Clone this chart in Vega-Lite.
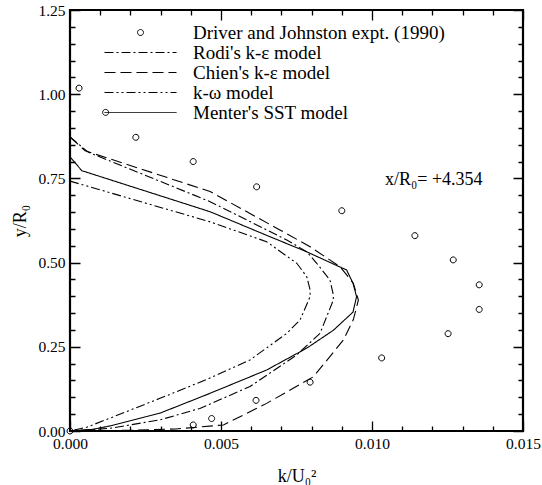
{
  "$schema": "https://vega.github.io/schema/vega-lite/v6.json",
  "width": 453,
  "height": 421,
  "autosize": {"type": "none"},
  "padding": {"left": 70, "top": 10, "right": 19, "bottom": 54},
  "background": "white",
  "datasets": {
    "expt": [
      {"x": 0.0, "y": 0.0, "series": "Driver and Johnston expt. (1990)"},
      {"x": 0.0003, "y": 1.018, "series": "Driver and Johnston expt. (1990)"},
      {"x": 0.00118, "y": 0.946, "series": "Driver and Johnston expt. (1990)"},
      {"x": 0.00218, "y": 0.872, "series": "Driver and Johnston expt. (1990)"},
      {"x": 0.00408, "y": 0.8, "series": "Driver and Johnston expt. (1990)"},
      {"x": 0.00618, "y": 0.725, "series": "Driver and Johnston expt. (1990)"},
      {"x": 0.009, "y": 0.654, "series": "Driver and Johnston expt. (1990)"},
      {"x": 0.01142, "y": 0.58, "series": "Driver and Johnston expt. (1990)"},
      {"x": 0.01269, "y": 0.508, "series": "Driver and Johnston expt. (1990)"},
      {"x": 0.01355, "y": 0.434, "series": "Driver and Johnston expt. (1990)"},
      {"x": 0.01355, "y": 0.361, "series": "Driver and Johnston expt. (1990)"},
      {"x": 0.01252, "y": 0.289, "series": "Driver and Johnston expt. (1990)"},
      {"x": 0.01032, "y": 0.217, "series": "Driver and Johnston expt. (1990)"},
      {"x": 0.00795, "y": 0.145, "series": "Driver and Johnston expt. (1990)"},
      {"x": 0.00616, "y": 0.091, "series": "Driver and Johnston expt. (1990)"},
      {"x": 0.00469, "y": 0.037, "series": "Driver and Johnston expt. (1990)"},
      {"x": 0.00408, "y": 0.018, "series": "Driver and Johnston expt. (1990)"}
    ],
    "models": [
      {"series": "Rodi's k-ε model", "i": 1, "x": 0.0, "y": 0.873},
      {"series": "Rodi's k-ε model", "i": 2, "x": 0.0006, "y": 0.828},
      {"series": "Rodi's k-ε model", "i": 3, "x": 0.00464, "y": 0.681},
      {"series": "Rodi's k-ε model", "i": 4, "x": 0.00718, "y": 0.567},
      {"series": "Rodi's k-ε model", "i": 5, "x": 0.00784, "y": 0.532},
      {"series": "Rodi's k-ε model", "i": 6, "x": 0.00817, "y": 0.498},
      {"series": "Rodi's k-ε model", "i": 7, "x": 0.00861, "y": 0.448},
      {"series": "Rodi's k-ε model", "i": 8, "x": 0.00872, "y": 0.404},
      {"series": "Rodi's k-ε model", "i": 9, "x": 0.00872, "y": 0.389},
      {"series": "Rodi's k-ε model", "i": 10, "x": 0.00828, "y": 0.29},
      {"series": "Rodi's k-ε model", "i": 11, "x": 0.00751, "y": 0.226},
      {"series": "Rodi's k-ε model", "i": 12, "x": 0.00596, "y": 0.132},
      {"series": "Rodi's k-ε model", "i": 13, "x": 0.0043, "y": 0.067},
      {"series": "Rodi's k-ε model", "i": 14, "x": 0.00298, "y": 0.033},
      {"series": "Rodi's k-ε model", "i": 15, "x": 0.00132, "y": 0.008},
      {"series": "Rodi's k-ε model", "i": 16, "x": 0.0, "y": 0.0},
      {"series": "Chien's k-ε model", "i": 1, "x": 0.0, "y": 0.873},
      {"series": "Chien's k-ε model", "i": 2, "x": 0.0005, "y": 0.832},
      {"series": "Chien's k-ε model", "i": 3, "x": 0.00464, "y": 0.711},
      {"series": "Chien's k-ε model", "i": 4, "x": 0.00695, "y": 0.597},
      {"series": "Chien's k-ε model", "i": 5, "x": 0.00795, "y": 0.547},
      {"series": "Chien's k-ε model", "i": 6, "x": 0.00894, "y": 0.488},
      {"series": "Chien's k-ε model", "i": 7, "x": 0.00938, "y": 0.439},
      {"series": "Chien's k-ε model", "i": 8, "x": 0.00955, "y": 0.389},
      {"series": "Chien's k-ε model", "i": 9, "x": 0.00938, "y": 0.33},
      {"series": "Chien's k-ε model", "i": 10, "x": 0.00905, "y": 0.27},
      {"series": "Chien's k-ε model", "i": 11, "x": 0.00806, "y": 0.161},
      {"series": "Chien's k-ε model", "i": 12, "x": 0.00651, "y": 0.082},
      {"series": "Chien's k-ε model", "i": 13, "x": 0.00508, "y": 0.018},
      {"series": "Chien's k-ε model", "i": 14, "x": 0.0035, "y": 0.006},
      {"series": "Chien's k-ε model", "i": 15, "x": 0.002, "y": 0.002},
      {"series": "Chien's k-ε model", "i": 16, "x": 0.0, "y": 0.0},
      {"series": "k-ω model", "i": 1, "x": 0.0, "y": 0.742},
      {"series": "k-ω model", "i": 2, "x": 0.00464, "y": 0.621},
      {"series": "k-ω model", "i": 3, "x": 0.00651, "y": 0.562},
      {"series": "k-ω model", "i": 4, "x": 0.00751, "y": 0.498},
      {"series": "k-ω model", "i": 5, "x": 0.00784, "y": 0.458},
      {"series": "k-ω model", "i": 6, "x": 0.00795, "y": 0.419},
      {"series": "k-ω model", "i": 7, "x": 0.00795, "y": 0.399},
      {"series": "k-ω model", "i": 8, "x": 0.00762, "y": 0.33},
      {"series": "k-ω model", "i": 9, "x": 0.00718, "y": 0.29},
      {"series": "k-ω model", "i": 10, "x": 0.00596, "y": 0.211},
      {"series": "k-ω model", "i": 11, "x": 0.00453, "y": 0.153},
      {"series": "k-ω model", "i": 12, "x": 0.00298, "y": 0.097},
      {"series": "k-ω model", "i": 13, "x": 0.00132, "y": 0.038},
      {"series": "k-ω model", "i": 14, "x": 0.00055, "y": 0.011},
      {"series": "k-ω model", "i": 15, "x": 0.0, "y": 0.0},
      {"series": "Menter's SST model", "i": 1, "x": 0.0, "y": 0.814},
      {"series": "Menter's SST model", "i": 2, "x": 0.00039, "y": 0.773},
      {"series": "Menter's SST model", "i": 3, "x": 0.00464, "y": 0.651},
      {"series": "Menter's SST model", "i": 4, "x": 0.00651, "y": 0.581},
      {"series": "Menter's SST model", "i": 5, "x": 0.00784, "y": 0.532},
      {"series": "Menter's SST model", "i": 6, "x": 0.00916, "y": 0.478},
      {"series": "Menter's SST model", "i": 7, "x": 0.00937, "y": 0.439},
      {"series": "Menter's SST model", "i": 8, "x": 0.00949, "y": 0.399},
      {"series": "Menter's SST model", "i": 9, "x": 0.00937, "y": 0.353},
      {"series": "Menter's SST model", "i": 10, "x": 0.00872, "y": 0.299},
      {"series": "Menter's SST model", "i": 11, "x": 0.00784, "y": 0.246},
      {"series": "Menter's SST model", "i": 12, "x": 0.00651, "y": 0.181},
      {"series": "Menter's SST model", "i": 13, "x": 0.00453, "y": 0.108},
      {"series": "Menter's SST model", "i": 14, "x": 0.00298, "y": 0.053},
      {"series": "Menter's SST model", "i": 15, "x": 0.00132, "y": 0.015},
      {"series": "Menter's SST model", "i": 16, "x": 0.00076, "y": 0.005},
      {"series": "Menter's SST model", "i": 17, "x": 0.0, "y": 0.0}
    ],
    "note": [
      {"x": 0.01043, "y": 0.745, "label": "x/R₀= +4.354"}
    ]
  },
  "encoding": {
    "x": {
      "field": "x", "type": "quantitative",
      "scale": {"domain": [0, 0.015], "nice": false, "zero": false},
      "axis": {
        "orient": "bottom",
        "title": "k/U₀²",
        "tickCount": 15,
        "labelExpr": "abs(datum.value*200 - round(datum.value*200)) < 0.001 ? format(datum.value, '.3f') : ''",
        "ticks": false,
        "domain": false,
        "grid": true,
        "gridColor": "#000000",
        "gridOpacity": 1,
        "gridWidth": 1.3,
        "gridDash": {"condition": {"test": "abs(datum.value*200 - round(datum.value*200)) < 0.001", "value": [10, 401, 10, 1000]}, "value": [5, 411, 5, 1000]},
        "labelPadding": 5,
        "titlePadding": 16
      }
    },
    "y": {
      "field": "y", "type": "quantitative",
      "scale": {"domain": [0, 1.25], "nice": false, "zero": false},
      "axis": {
        "orient": "left",
        "title": "y/R₀",
        "tickCount": 25,
        "labelExpr": "abs(datum.value*4 - round(datum.value*4)) < 0.001 ? format(datum.value, '.2f') : ''",
        "ticks": false,
        "domain": false,
        "grid": true,
        "gridColor": "#000000",
        "gridOpacity": 1,
        "gridWidth": 1.3,
        "gridDash": {"condition": {"test": "abs(datum.value*4 - round(datum.value*4)) < 0.001", "value": [10, 433, 10, 1000]}, "value": [5, 443, 5, 1000]},
        "labelPadding": 5,
        "titlePadding": 8
      }
    }
  },
  "layer": [
    {
      "data": {"name": "expt"},
      "mark": {"type": "point", "filled": false, "stroke": "black", "strokeWidth": 1, "size": 36, "opacity": 1, "clip": false},
      "encoding": {
        "shape": {
          "field": "series", "type": "nominal",
          "scale": {
            "domain": ["Driver and Johnston expt. (1990)", "Rodi's k-ε model", "Chien's k-ε model", "k-ω model", "Menter's SST model"],
            "range": ["M1,0A1,1,0,1,1,-1,0A1,1,0,1,1,1,0Z", "M-12,0L12,0", "M-12,0L12,0", "M-12,0L12,0", "M-12,0L12,0"]
          },
          "legend": {"orient": "none", "legendX": 61, "legendY": 13, "title": null}
        }
      }
    },
    {
      "data": {"name": "models"},
      "mark": {"type": "line", "color": "black", "strokeWidth": 1.1, "clip": true},
      "encoding": {
        "strokeDash": {
          "field": "series", "type": "nominal",
          "scale": {
            "domain": ["Driver and Johnston expt. (1990)", "Rodi's k-ε model", "Chien's k-ε model", "k-ω model", "Menter's SST model"],
            "range": [[1, 0], [9, 3, 2, 3], [11, 5], [9, 3, 2, 3, 2, 3], [1, 0]]
          },
          "legend": {"orient": "none", "legendX": 61, "legendY": 13, "title": null}
        },
        "order": {"field": "i", "type": "quantitative"}
      }
    },
    {
      "data": {"name": "note"},
      "mark": {"type": "text", "align": "left", "baseline": "middle", "font": "Liberation Serif", "fontSize": 18, "color": "black"},
      "encoding": {
        "text": {"field": "label"}
      }
    }
  ],
  "config": {
    "view": {"stroke": "black", "strokeWidth": 2.2},
    "axis": {
      "labelFont": "Liberation Serif",
      "labelFontSize": 15.5,
      "labelColor": "black",
      "titleFont": "Liberation Serif",
      "titleFontSize": 18,
      "titleFontWeight": "normal",
      "titleColor": "black",
      "labelOverlap": false,
      "labelFlush": false
    },
    "legend": {
      "padding": 0,
      "rowPadding": -2,
      "symbolSize": 36,
      "symbolStrokeColor": "black",
      "symbolFillColor": "transparent",
      "symbolStrokeWidth": 1,
      "labelFont": "Liberation Serif",
      "labelFontSize": 19,
      "labelColor": "black",
      "labelOffset": 43,
      "labelLimit": 400
    }
  }
}
